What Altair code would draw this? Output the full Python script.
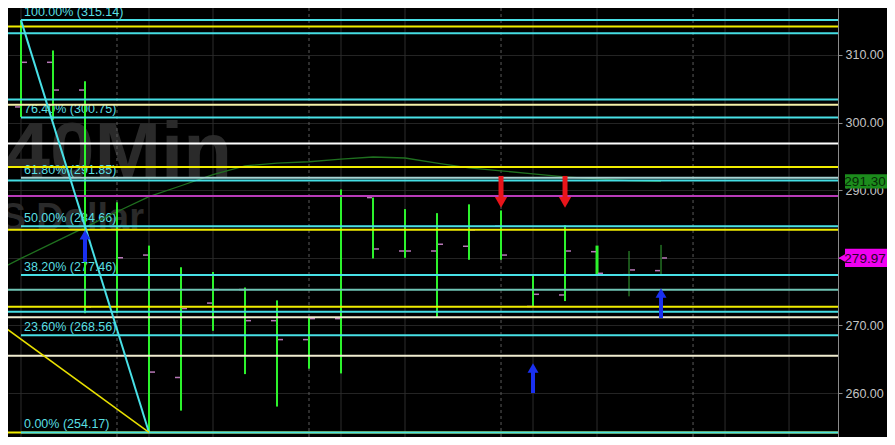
import altair as alt
import pandas as pd

# ---------------- data ----------------
bar_idx = list(range(21))
bar_open = [302.3, 308.9, 304.8, 272.01, 280.4, 262.3, 273.3, 275.3, 270.7, 267.9, 271.0,
            288.9, 281.0, 281.0, 281.7, 284.66, 272.8, 274.5, 280.9, 277.5, 278.1]
bar_high = [315.14, 310.65, 306.1, 288.2, 281.8, 278.6, 277.9, 275.6, 273.7, 271.2, 290.1,
            288.9, 287.2, 286.6, 287.9, 287.0, 277.4, 284.8, 281.8, 281.0, 281.9]
bar_low = [300.8, 300.4, 271.8, 271.8, 254.17, 257.4, 269.2, 262.8, 258.0, 263.6, 262.9,
           279.9, 280.0, 271.2, 279.7, 279.7, 272.8, 273.6, 277.3, 274.3, 277.5]
bar_close = [308.9, 304.8, 272.74, 280.0, 263.1, 272.5, 275.3, 270.7, 267.9, 271.0, 289.1,
             281.3, 281.0, 282.0, 284.13, 280.4, 274.6, 281.0, 277.7, 278.2, 279.97]

ma_idx = list(range(-1, 21))
ma_val = [277.5, 279.9, 282.2, 284.5, 286.8, 289.05, 290.65, 292.3, 293.6, 294.0, 294.2,
          294.6, 294.9, 294.75, 294.0, 293.3, 292.85, 292.4, 291.97, 291.68, 291.4, 291.3]

fib_pct = [100.0, 76.4, 61.8, 50.0, 38.2, 23.6, 0.0]
fib_val = [315.14, 300.75, 291.85, 284.66, 277.46, 268.56, 254.17]

level_val = [314.2, 313.18, 303.4, 302.63, 296.89, 293.43, 291.43, 289.12, 284.13,
             275.28, 272.74, 272.01, 271.2, 265.5, 254.17]
level_type = ["swing", "prior", "prior", "pivot", "round", "swing", "prior", "mid", "swing",
              "minor", "swing", "prior", "pivot-minor", "pivot-minor", "swing"]

vgrid_idx = [0, 3, 4, 6, 9, 10, 12, 15, 16, 18, 21, 22, 24]
vgrid_kind = ["hour", "day", "hour", "hour", "day", "hour", "hour", "day", "hour", "hour",
              "day", "hour", "hour"]

arrow_idx = [2, 16, 20, 15, 17]
arrow_from = [279.4, 260.0, 271.1, 292.1, 292.1]
arrow_to = [284.1, 264.4, 275.5, 287.4, 287.4]
arrow_dir = ["up", "up", "up", "down", "down"]

swing_idx = [0, 4]
swing_val = [315.14, 254.17]
trend_idx = [-1, 4]
trend_val = [271.4, 254.17]

y_ticks = [260, 270, 280, 290, 300, 310]
last_ma = 291.30
last_price = 279.97
watermark = ["240Min"]
watermark2 = ["US Dollar"]

# ---------------- tables ----------------
bars = pd.DataFrame({"i": bar_idx, "open": bar_open, "high": bar_high,
                     "low": bar_low, "close": bar_close})
ma = pd.DataFrame({"i": ma_idx, "v": ma_val})
fib = pd.DataFrame({"pct": fib_pct, "v": fib_val, "i0": [0] * len(fib_pct),
                    "i1": [30] * len(fib_pct)})
levels = pd.DataFrame({"v": level_val, "type": level_type})
vgrid = pd.DataFrame({"i": vgrid_idx, "kind": vgrid_kind})
arrows = pd.DataFrame({"i": arrow_idx, "a": arrow_from, "b": arrow_to, "dir": arrow_dir})
swing = pd.DataFrame({"i": swing_idx, "v": swing_val})
trend = pd.DataFrame({"i": trend_idx, "v": trend_val})
axisdf = pd.DataFrame({"v": y_ticks})
tags = pd.DataFrame({"v": [last_ma, last_price], "kind": ["ma", "price"]})

FONT = "Liberation Sans"
xs = alt.Scale(domain=[-0.406, 25.53], nice=False, zero=False)
ys = alt.Scale(domain=[253.5, 316.93], nice=False, zero=False)
YAX = alt.Axis(orient="right", values=y_ticks, format=".2f",
               labelColor="#c4c4c4", labelFont=FONT, labelFontSize=12.5,
               gridColor="#242424", grid=True, domainColor="#8a8a8a",
               tickColor="#8a8a8a", tickSize=4, labelPadding=3, labelFlush=False)


def X(f):
    return alt.X(f, scale=xs, axis=None, title=None)


def Y(f):
    return alt.Y(f, scale=ys, axis=YAX, title=None)


axis_layer = alt.Chart(axisdf).mark_point(opacity=0).encode(y=Y("v:Q"))

wm1 = alt.Chart(pd.DataFrame({"t": watermark})).mark_text(
    align="left", baseline="alphabetic", fontSize=80, fontWeight="bold",
    font=FONT, color="#2a2a2a").encode(x=alt.value(-47), y=alt.value(170), text="t:N")
wm2 = alt.Chart(pd.DataFrame({"t": watermark2})).mark_text(
    align="left", baseline="alphabetic", fontSize=38, fontWeight="bold",
    font=FONT, color="#2a2a2a").encode(x=alt.value(-35), y=alt.value(222), text="t:N")

vg = alt.Chart(vgrid).mark_rule(strokeWidth=1).encode(
    x=X("i:Q"),
    color=alt.Color("kind:N", scale=alt.Scale(domain=["hour", "day"],
                                              range=["#2c2c2c", "#5a5a5a"]), legend=None),
    strokeDash=alt.StrokeDash("kind:N", scale=alt.Scale(domain=["hour", "day"],
                                                        range=[[1, 0], [3, 3]]), legend=None),
)

fib_text = alt.Chart(fib).transform_calculate(
    label="format(datum.pct, '.2f') + '% (' + format(datum.v, '.2f') + ')'"
).mark_text(align="left", baseline="alphabetic", dx=3, dy=-4, fontSize=12.5,
            font=FONT, color="#58dfe2").encode(x=X("i0:Q"), y=Y("v:Q"), text="label:N")

ma_line = alt.Chart(ma).mark_line(clip=True, color="#1f701f", strokeWidth=1.3).encode(
    x=X("i:Q"), y=Y("v:Q"))

bar_rules = alt.Chart(bars).transform_calculate(
    w="datum.i >= 19 ? 1 : (datum.i == 18 ? 3 : 2)"
).mark_rule().encode(
    x=X("i:Q"), y=Y("low:Q"), y2="high:Q",
    strokeWidth=alt.StrokeWidth("w:Q", scale=None),
    color=alt.condition("datum.i >= 19", alt.value("#34a834"), alt.value("#2cf22c")),
)
open_ticks = alt.Chart(bars).mark_rule(xOffset=-6, x2Offset=-1, strokeWidth=1.5,
                                       color="#b878b8").encode(
    x=X("i:Q"), x2="i:Q", y=Y("open:Q"))
close_ticks = alt.Chart(bars).mark_rule(xOffset=1, x2Offset=6, strokeWidth=1.5,
                                        color="#b878b8").encode(
    x=X("i:Q"), x2="i:Q", y=Y("close:Q"))

lv_types = ["swing", "prior", "pivot", "round", "mid", "minor", "pivot-minor"]
lv_colors = ["#f0ec00", "#45dde3", "#f5f0a8", "#ffffff", "#b83ab8", "#6fc4b4", "#f0ecd0"]
lv_widths = [2, 2, 2, 1.5, 1.5, 1, 1]
level_rules = alt.Chart(levels).mark_rule().encode(
    y=Y("v:Q"),
    color=alt.Color("type:N", scale=alt.Scale(domain=lv_types, range=lv_colors), legend=None),
    strokeWidth=alt.StrokeWidth("type:N", scale=alt.Scale(domain=lv_types, range=lv_widths),
                                legend=None),
)

fib_rules = alt.Chart(fib).mark_rule(clip=True, strokeWidth=2).encode(
    x=X("i0:Q"), x2="i1:Q", y=Y("v:Q"),
    color=alt.condition("datum.pct == 61.8", alt.value("#a6d4d4"), alt.value("#48e0e6")),
)

swing_line = alt.Chart(swing).mark_line(clip=True, color="#48e0e6", strokeWidth=2).encode(
    x=X("i:Q"), y=Y("v:Q"))
trend_line = alt.Chart(trend).mark_line(clip=True, color="#e8e000", strokeWidth=1.5).encode(
    x=X("i:Q"), y=Y("v:Q"))

up = arrows[arrows["dir"] == "up"]
down = arrows[arrows["dir"] == "down"]
BLUE = "#1a30f0"
RED = "#e8141a"
up_shaft = alt.Chart(up).mark_rule(strokeWidth=4, color=BLUE, y2Offset=6).encode(
    x=X("i:Q"), y=Y("a:Q"), y2="b:Q")
up_head = alt.Chart(up).mark_point(shape="triangle-up", filled=True, size=120, opacity=1,
                                   color=BLUE, yOffset=4.7).encode(x=X("i:Q"), y=Y("b:Q"))
dn_shaft = alt.Chart(down).mark_rule(strokeWidth=5, color=RED, y2Offset=-6).encode(
    x=X("i:Q"), y=Y("a:Q"), y2="b:Q")
dn_head = alt.Chart(down).mark_point(shape="triangle-down", filled=True, size=150, opacity=1,
                                     color=RED, yOffset=-5.3).encode(x=X("i:Q"), y=Y("b:Q"))

tag_box = alt.Chart(tags).transform_calculate(
    h="datum.kind == 'ma' ? 1.05 : 1.35",
    lo="datum.v - datum.h", hi="datum.v + datum.h"
).mark_rect().encode(
    x=alt.value(837), x2=alt.value(879),
    y=Y("lo:Q"), y2="hi:Q",
    color=alt.condition("datum.kind == 'ma'", alt.value("#1c8c1c"), alt.value("#f000f0")),
)
tag_point = alt.Chart(tags[tags["kind"] == "price"]).mark_point(
    shape="triangle-left", filled=True, size=110, opacity=1, color="#f000f0").encode(
    x=alt.value(835), y=Y("v:Q"))
tag_text = alt.Chart(tags).mark_text(align="center", baseline="middle", fontSize=13.5,
                                     font=FONT, dy=1).encode(
    x=alt.value(857), y=Y("v:Q"), text=alt.Text("v:Q", format=".2f"),
    color=alt.condition("datum.kind == 'ma'", alt.value("#062a06"), alt.value("#2a002a")),
)

chart = alt.layer(
    axis_layer, wm1, wm2, vg, fib_text, ma_line, bar_rules, open_ticks, close_ticks,
    level_rules, fib_rules, swing_line, trend_line, up_shaft, up_head, dn_shaft, dn_head,
    tag_box, tag_point, tag_text
).resolve_scale(color="independent", strokeWidth="independent").properties(
    width=830, height=429,
    autosize=alt.AutoSizeParams(type="none"),
    padding={"left": 0, "top": 0, "right": 49, "bottom": 0},
    background="#000000",
).configure_view(stroke=None, fill="#000000")

chart.save("out.html", embed_options={"renderer": "svg", "actions": False})
